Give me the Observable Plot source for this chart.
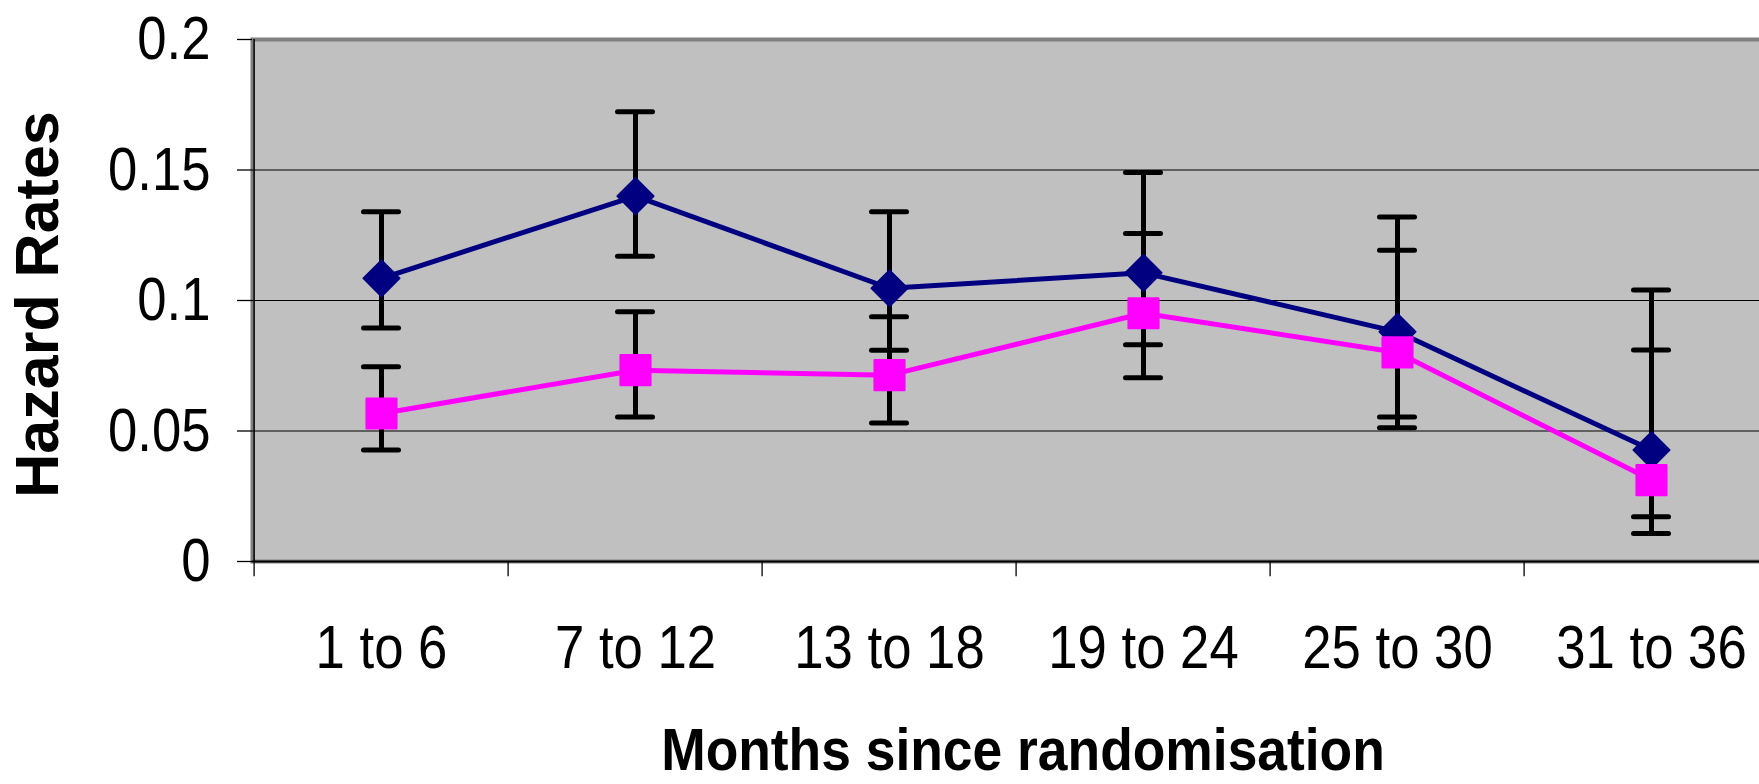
<!DOCTYPE html>
<html>
<head>
<meta charset="utf-8">
<script src="https://cdn.jsdelivr.net/npm/d3@7"></script>
<script src="https://cdn.jsdelivr.net/npm/@observablehq/plot@0.6"></script>
<style>
  html, body { margin: 0; padding: 0; background: #fff; overflow: hidden; width: 1759px; height: 784px; }
  #chart svg { display: block; }
</style>
</head>
<body>
<div id="chart"></div>
<script>
// ---- data ----
const categories = ["1 to 6", "7 to 12", "13 to 18", "19 to 24", "25 to 30", "31 to 36"];

const seriesAValues = [0.1085, 0.140, 0.1047, 0.1106, 0.088, 0.0427];
const seriesALower  = [0.0895, 0.117, 0.0809, 0.083, 0.0554, 0.0171];
const seriesAUpper  = [0.134, 0.1723, 0.134, 0.149, 0.132, 0.104];

const seriesBValues = [0.0567, 0.0733, 0.0714, 0.0951, 0.0801, 0.0312];
const seriesBLower  = [0.0427, 0.0554, 0.0531, 0.0704, 0.0512, 0.0107];
const seriesBUpper  = [0.0746, 0.0957, 0.0938, 0.1257, 0.1193, 0.081];

const yTicks = [0, 0.05, 0.1, 0.15, 0.2];
const yTickLabels = ["0", "0.05", "0.1", "0.15", "0.2"];
const xTitle = "Months since randomisation";
const yTitle = "Hazard Rates";

// ---- tables ----
const makeRows = (vals, lo, hi, s) => categories.map((c, i) => ({cat: c, v: vals[i], lo: lo[i], hi: hi[i], s}));
const A = makeRows(seriesAValues, seriesALower, seriesAUpper, "A");
const B = makeRows(seriesBValues, seriesBLower, seriesBUpper, "B");
const all = A.concat(B);

// ---- layout ----
const W = 1759, H = 784;
const ML = 252, MT = 39, MB = 223, MR = -30;
const step = 254.8;
const capInset = 109.5;

const font = "'Liberation Sans', Arial, Helvetica, sans-serif";

const chart = Plot.plot({
  width: W,
  height: H,
  marginLeft: ML,
  marginTop: MT,
  marginBottom: MB,
  marginRight: MR,
  style: {fontFamily: font, fontSize: "62px", color: "#000", background: "#fff", overflow: "hidden"},
  x: {domain: categories, range: [ML, ML + categories.length * step], padding: 0, label: null},
  y: {domain: [0, 0.2], label: null},
  marks: [
    Plot.frame({fill: "#c0c0c0", stroke: "#808080", strokeWidth: 4}),
    Plot.ruleY(yTicks.slice(1, -1), {stroke: "#000", strokeWidth: 1.2}),
    Plot.ruleY([0], {stroke: "#000", strokeWidth: 2}),
    Plot.ruleX(categories, {dx: -step / 2, y1: () => -0.0058, y2: () => 0, stroke: "#000", strokeWidth: 1.3}),
    Plot.ruleX([categories[0]], {dx: -step / 2, y1: () => 0, y2: () => 0.2, stroke: "#000", strokeWidth: 1.5}),
    Plot.axisY({ticks: yTicks, tickFormat: d => yTickLabels[yTicks.indexOf(d)], tickSize: 15, tickPadding: 27, label: null, strokeWidth: 1.3, className: "cond"}),
    Plot.axisX({tickSize: 0, tickPadding: 62, label: null, className: "cond"}),
    // error bars
    Plot.ruleX(all, {x: "cat", y1: "lo", y2: "hi", stroke: "#000", strokeWidth: 5}),
    Plot.tickY(all, {x: "cat", y: "lo", insetLeft: capInset, insetRight: capInset, stroke: "#000", strokeWidth: 5, strokeLinecap: "round"}),
    Plot.tickY(all, {x: "cat", y: "hi", insetLeft: capInset, insetRight: capInset, stroke: "#000", strokeWidth: 5, strokeLinecap: "round"}),
    // series A (navy diamonds)
    Plot.line(A, {x: "cat", y: "v", stroke: "#000080", strokeWidth: 5}),
    Plot.dot(A, {x: "cat", y: "v", symbol: "diamond2", r: 16.5, fill: "#000080", stroke: "#000080", strokeWidth: 1.5, strokeLinejoin: "round"}),
    // series B (magenta squares)
    Plot.line(B, {x: "cat", y: "v", stroke: "#ff00ff", strokeWidth: 5}),
    Plot.dot(B, {x: "cat", y: "v", symbol: "square", r: 17, fill: "#ff00ff", stroke: "#ff00ff", strokeWidth: 2, strokeLinejoin: "round"}),
    // titles
    Plot.text([xTitle], {frameAnchor: "bottom", dx: 2, dy: 190, lineAnchor: "middle", textAnchor: "middle", fontWeight: "bold", fontSize: 59, fill: "#000", className: "condTitle"}),
    Plot.text([yTitle], {frameAnchor: "left", rotate: -90, dx: -214, dy: 4, lineAnchor: "middle", textAnchor: "middle", fontWeight: "bold", fontSize: 61, fill: "#000"})
  ]
});

// condense the horizontal texts like the reference
const condense = (sel, k) => chart.querySelectorAll(sel).forEach(el => {
  const t = el.getAttribute("transform");
  if (!t || t.includes("rotate")) return;
  el.setAttribute("transform", t + ` scale(${k},1)`);
});
condense(".cond text", 0.85);
condense(".condTitle text", 0.905);

document.getElementById("chart").appendChild(chart);
</script>
</body>
</html>
